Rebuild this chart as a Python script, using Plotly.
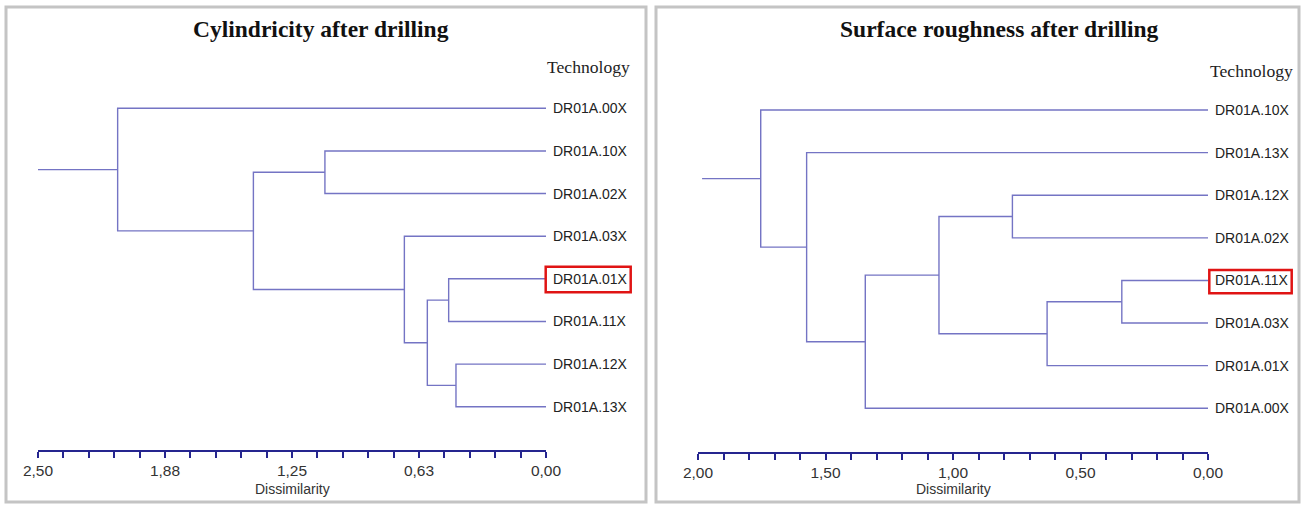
import plotly.graph_objects as go

W, H = 1304, 505

# ---------------- data ----------------
cyl_leaves = ["DR01A.00X", "DR01A.10X", "DR01A.02X", "DR01A.03X",
              "DR01A.01X", "DR01A.11X", "DR01A.12X", "DR01A.13X"]
# merges: (child a, child b, dissimilarity); new nodes numbered from len(leaves)
cyl_merge_a = [4, 6, 8, 3, 1, 12, 0]
cyl_merge_b = [5, 7, 9, 10, 2, 11, 13]
cyl_merge_h = [0.479, 0.443, 0.584, 0.697, 1.088, 1.440, 2.108]
cyl_root_h = 2.50
cyl_tickvals = [2.5, 1.875, 1.25, 0.625, 0.0]
cyl_ticktext = ["2,50", "1,88", "1,25", "0,63", "0,00"]
cyl_highlight = "DR01A.01X"

rough_leaves = ["DR01A.10X", "DR01A.13X", "DR01A.12X", "DR01A.02X",
                "DR01A.11X", "DR01A.03X", "DR01A.01X", "DR01A.00X"]
rough_merge_a = [4, 8, 2, 10, 11, 1, 0]
rough_merge_b = [5, 6, 3, 9, 7, 12, 13]
rough_merge_h = [0.338, 0.631, 0.767, 1.055, 1.344, 1.574, 1.754]
rough_root_h = 1.984
rough_tickvals = [2.0, 1.5, 1.0, 0.5, 0.0]
rough_ticktext = ["2,00", "1,50", "1,00", "0,50", "0,00"]
rough_highlight = "DR01A.11X"

# ---------------- helpers ----------------
def pxx(x):
    return x / W

def pxy(y):
    return 1 - y / H

def dendro(leaves, ma, mb, mh, root_h):
    n = len(leaves)
    pos = {i: (0.0, float(i)) for i in range(n)}
    xs, ys = [], []
    for k, (a, b, h) in enumerate(zip(ma, mb, mh)):
        ha, ya = pos[a]
        hb, yb = pos[b]
        xs += [ha, h, h, hb, None]
        ys += [ya, ya, yb, yb, None]
        pos[n + k] = (h, (ya + yb) / 2)
    rh, ry = pos[n + len(ma) - 1]
    xs += [rh, root_h, None]
    ys += [ry, ry, None]
    return xs, ys

TREE = "#7474c4"
AXIS = "#25258f"
SANS = "Liberation Sans, Arial, sans-serif"
SERIF = "Liberation Serif, Times New Roman, serif"

fig = go.Figure()

panels = [
    dict(leaves=cyl_leaves, ma=cyl_merge_a, mb=cyl_merge_b, mh=cyl_merge_h,
         root=cyl_root_h, tv=cyl_tickvals, tt=cyl_ticktext, hl=cyl_highlight,
         xa="x", ya="y", x0=38, x1=546, rng=[2.5, 0], minor=0.125,
         leaf0=108.3, sp=42.63, axy=450,
         title="Cylindricity after drilling", tx=321, ty=29,
         techx=588, techy=67, box=(545.7, 266.7, 630.7, 292.3),
         frame=(6, 7, 646, 502)),
    dict(leaves=rough_leaves, ma=rough_merge_a, mb=rough_merge_b, mh=rough_merge_h,
         root=rough_root_h, tv=rough_tickvals, tt=rough_ticktext, hl=rough_highlight,
         xa="x2", ya="y2", x0=698, x1=1208, rng=[2.0, 0], minor=0.1,
         leaf0=110.0, sp=42.61, axy=451.7,
         title="Surface roughness after drilling", tx=999, ty=29,
         techx=1251, techy=71, box=(1209.3, 270, 1291.7, 293.3),
         frame=(656, 7, 1299, 502)),
]

shapes = []
annotations = []
layout_axes = {}

for i, p in enumerate(panels):
    xs, ys = dendro(p["leaves"], p["ma"], p["mb"], p["mh"], p["root"])
    fig.add_trace(go.Scatter(x=xs, y=ys, mode="lines", xaxis=p["xa"], yaxis=p["ya"],
                             line=dict(color=TREE, width=1.4), hoverinfo="skip",
                             showlegend=False))
    i_bot = (p["axy"] - p["leaf0"]) / p["sp"]
    i_top = (60 - p["leaf0"]) / p["sp"]
    sfx = "" if i == 0 else "2"
    layout_axes["xaxis" + sfx] = dict(
        domain=[pxx(p["x0"]), pxx(p["x1"])], range=p["rng"], anchor="y" + sfx,
        automargin=False,
        showgrid=False, zeroline=False, showline=True, linecolor=AXIS, linewidth=1.6,
        ticks="outside", ticklen=6, tickwidth=1.5, tickcolor=AXIS,
        tickmode="array", tickvals=p["tv"], ticktext=p["tt"],
        tickfont=dict(family=SANS, size=15.5, color="#333333"),
        ticklabelstandoff=0,
        minor=dict(tick0=0, dtick=p["minor"], ticks="outside", ticklen=6,
                   tickwidth=1.5, tickcolor=AXIS, showgrid=False),
        fixedrange=True)
    layout_axes["yaxis" + sfx] = dict(
        domain=[pxy(p["axy"]), pxy(60)], range=[i_bot, i_top], anchor="x" + sfx,
        automargin=False,
        visible=False, showgrid=False, zeroline=False, fixedrange=True)

    # leaf labels
    for j, lab in enumerate(p["leaves"]):
        annotations.append(dict(x=0, y=j, xref=p["xa"], yref=p["ya"], text=lab,
                                showarrow=False, xanchor="left", yanchor="middle",
                                xshift=5, font=dict(family=SANS, size=14, color="#222222")))
    # highlight box
    bx0, by0, bx1, by1 = p["box"]
    shapes.append(dict(type="rect", xref="paper", yref="paper",
                       x0=pxx(bx0), x1=pxx(bx1), y0=pxy(by1), y1=pxy(by0),
                       line=dict(color="#e01414", width=2.5), fillcolor="rgba(0,0,0,0)"))
    # panel frame
    fx0, fy0, fx1, fy1 = p["frame"]
    shapes.append(dict(type="rect", xref="paper", yref="paper",
                       x0=pxx(fx0), x1=pxx(fx1), y0=pxy(fy1), y1=pxy(fy0),
                       line=dict(color="#c4c4c4", width=3), fillcolor="rgba(0,0,0,0)",
                       layer="below"))
    # title
    annotations.append(dict(x=pxx(p["tx"]), y=pxy(p["ty"]), xref="paper", yref="paper",
                            text="<b>" + p["title"] + "</b>", showarrow=False,
                            xanchor="center", yanchor="middle",
                            font=dict(family=SERIF, size=23.5, color="#111111")))
    annotations.append(dict(x=pxx(p["techx"]), y=pxy(p["techy"]), xref="paper", yref="paper",
                            text="Technology", showarrow=False,
                            xanchor="center", yanchor="middle",
                            font=dict(family=SERIF, size=17.6, color="#222222")))
    annotations.append(dict(x=pxx((p["x0"] + p["x1"]) / 2), y=pxy(489), xref="paper",
                            yref="paper", text="Dissimilarity", showarrow=False,
                            xanchor="center", yanchor="middle",
                            font=dict(family=SANS, size=14, color="#333333")))

fig.update_layout(width=W, height=H, margin=dict(l=0, r=0, t=0, b=0, pad=0, autoexpand=False),
                  paper_bgcolor="white", plot_bgcolor="white",
                  shapes=shapes, annotations=annotations, showlegend=False,
                  **layout_axes)

fig.write_html("out.html", config={"responsive": False, "displayModeBar": False},
               post_script="document.body.style.margin='0';"
                           "document.body.style.overflow='hidden';")
